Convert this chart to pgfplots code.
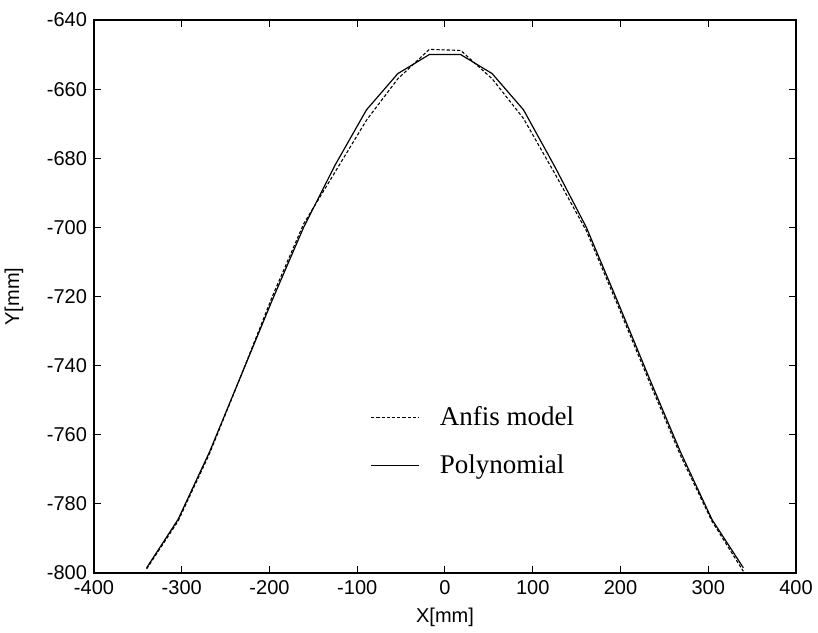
\documentclass[border=0pt]{standalone}
\usepackage{fontspec}
\setmainfont{Liberation Sans}
\newfontfamily\timesfont{Liberation Serif}
\usepackage{pgfplots}
\pgfplotsset{compat=1.18}
\usepackage{pgfplotstable}
\pgfplotstableread{
x y
-340 -798.5
-304.2 -784.5
-268.4 -765
-232.6 -743
-196.8 -721
-161.1 -700
-125.3 -682
-89.5 -666
-53.7 -655.5
-17.9 -650
17.9 -650
53.7 -655.5
89.5 -666
125.3 -682.5
161.1 -700
196.8 -721.5
232.6 -743.5
268.4 -765
304.2 -784.5
340 -798.5
}\poly
\pgfplotstableread{
x y
-340 -798.8
-304.2 -785
-268.4 -765.5
-232.6 -743
-196.8 -720
-161.1 -699
-125.3 -684
-89.5 -669
-53.7 -657
-17.9 -648.5
17.9 -648.8
53.7 -657
89.5 -668.5
125.3 -684.5
161.1 -701
196.8 -722.5
232.6 -744.5
268.4 -766
304.2 -785
340 -799.5
}\anfis
\begin{document}
\begin{tikzpicture}
\begin{axis}[
  scale only axis,
  width=351pt, height=276.5pt,
  xmin=-400, xmax=400, ymin=-800, ymax=-640,
  xtick={-400,-300,...,400},
  ytick={-800,-780,...,-640},
  tick align=inside,
  major tick length=3.5pt,
  tick style={black, line width=0.5pt},
  axis line style={line width=0.6pt},
  ticklabel style={font=\fontsize{10}{12}\selectfont},
  /pgf/number format/assume math mode=true,
  xlabel={X[mm]}, ylabel={Y[mm]},
  label style={font=\fontsize{10}{12}\selectfont},
  ylabel shift=5pt,
  xlabel shift=0pt,
  legend style={draw=none, fill=none, at={(axis cs:-92,-762)}, anchor=west,
    font=\timesfont\fontsize{13.5}{15}\selectfont, row sep=9pt},
  legend cell align=left,
  legend image code/.code={\draw[#1] (0pt,0pt) -- (24pt,0pt);},
  /tikz/every odd column/.append style={column sep=8pt},
]
\addplot[black, line width=0.55pt, dash pattern=on 1.6pt off 1pt] table[x=x,y=y] {\anfis};
\addlegendentry{Anfis model}
\addplot[black, line width=0.6pt] table[x=x,y=y] {\poly};
\addlegendentry{Polynomial}
\end{axis}
\pgfresetboundingbox
\path (current axis.south west) ++(-47pt,-29.5pt) rectangle ++(409pt,316pt);
\end{tikzpicture}
\end{document}
